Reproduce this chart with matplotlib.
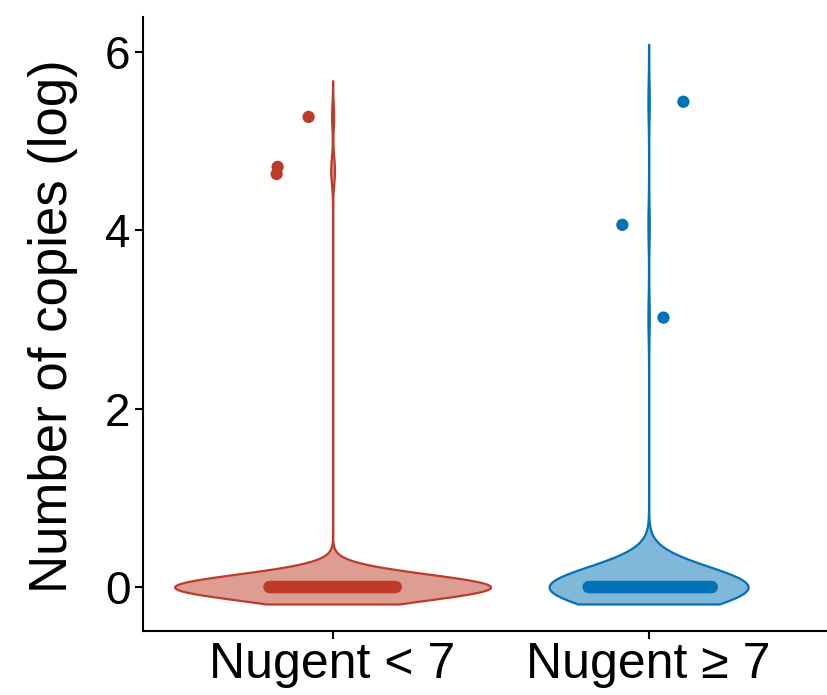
import numpy as np
import matplotlib.pyplot as plt
from matplotlib.colors import to_rgba

plt.rcParams['font.family'] = ['Liberation Sans', 'DejaVu Sans']

groups = ['Nugent < 7', 'Nugent ≥ 7']
colors = ['#BC3C29', '#0072B5']

# log copy numbers; most samples sit at zero
red_outliers = [5.27, 4.71, 4.63]
red_outlier_jitter = [-0.076, -0.174, -0.177]
red_zero_count = 160
blue_outliers = [5.44, 4.06, 3.02]
blue_outlier_jitter = [0.11, -0.083, 0.047]
blue_zero_count = 150

bandwidths = [0.145, 0.23]


def kde(values, bw, grid):
    values = np.asarray(values)
    z = (grid[:, None] - values[None, :]) / bw
    return np.exp(-0.5 * z ** 2).sum(axis=1) / (len(values) * bw * np.sqrt(2 * np.pi))


group_values = [red_outliers + [0.0] * red_zero_count,
                blue_outliers + [0.0] * blue_zero_count]
group_jitter = [red_outlier_jitter + list(np.linspace(-0.2, 0.2, red_zero_count)),
                blue_outlier_jitter + list(np.linspace(-0.19, 0.2, blue_zero_count))]

grids, dens = [], []
for vals, bw in zip(group_values, bandwidths):
    g = np.linspace(min(vals) - 0.19, max(vals) + 2.8 * bw, 800)
    grids.append(g)
    dens.append(kde(vals, bw, g))
dmax = max(d.max() for d in dens)

fig = plt.figure(figsize=(8.28, 6.95), dpi=100)
ax = fig.add_axes([143 / 828, 64 / 695, (2.2 * 316) / 828, 614 / 695])

for i, (g, d) in enumerate(zip(grids, dens)):
    xc = i + 1
    half = 0.5 * d / dmax
    ax.fill_betweenx(g, xc - half, xc + half, facecolor=to_rgba(colors[i], 0.5),
                     edgecolor=colors[i], linewidth=1.6, zorder=2)
    ax.scatter(xc + np.array(group_jitter[i]), group_values[i], s=78,
               color=colors[i], edgecolor='none', zorder=3)

ax.set_xlim(0.4, 2.6)
ax.set_ylim(-0.493, 6.39)
ax.set_xticks([1, 2])
ax.set_xticklabels(groups, fontsize=36)
ax.set_yticks([0, 2, 4, 6])
ax.set_ylabel('Number of copies (log)', fontsize=38)
ax.yaxis.set_label_coords(-0.093, 0.497)
ax.tick_params(axis='y', labelsize=33, pad=3)
ax.tick_params(axis='x', pad=2)
ax.tick_params(axis='both', width=1.5, length=6, color='black', labelcolor='black')
for side in ['top', 'right']:
    ax.spines[side].set_visible(False)
for side in ['left', 'bottom']:
    ax.spines[side].set_linewidth(1.5)

fig.savefig('out.png', dpi=100)
